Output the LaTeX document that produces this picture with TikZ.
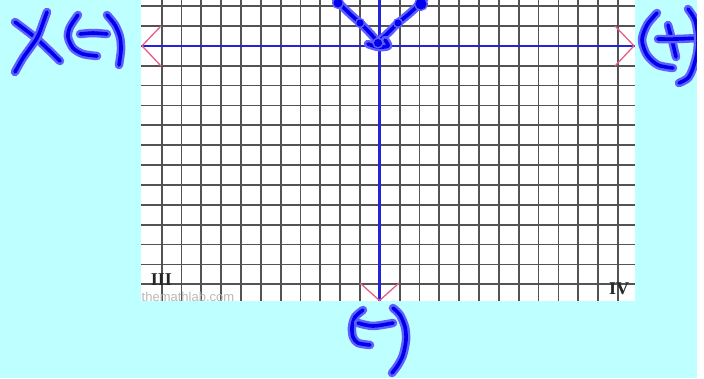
\documentclass[tikz,border=0pt]{standalone}
\usepackage{fontspec}
\newfontfamily\wmfont{Liberation Sans}
\newfontfamily\quadfont{Liberation Serif}
\definecolor{bgcyan}{RGB}{190,255,255}
\definecolor{gridgray}{RGB}{40,40,40}
\definecolor{axisblue}{RGB}{35,35,215}
\definecolor{arrowpink}{RGB}{230,95,135}
\definecolor{inkcore}{RGB}{0,0,235}
\definecolor{inkhalo}{RGB}{95,95,255}
\tikzset{
  gridline/.style={draw=gridgray!80, line width=1.8pt},
  axisline/.style={draw=axisblue, line width=2.4pt},
  pinkhead/.style={draw=arrowpink, line width=1.3pt},
  ink/.style={line cap=round, line join=round, preaction={draw=inkhalo, line width=8.5pt, line cap=round, line join=round}, draw=inkcore, line width=3.6pt},
  inkdot/.style={fill=inkcore, preaction={fill=inkhalo, draw=inkhalo, line width=3pt}},
  quad/.style={font=\quadfont\bfseries\fontsize{18}{18}\selectfont, text=black!85, inner sep=0pt},
  wmark/.style={font=\wmfont\fontsize{13}{13}\selectfont, text=black!28, inner sep=0pt}
}
\begin{document}
\begin{tikzpicture}[x=1pt,y=-1pt]
\fill[bgcyan] (0,0) rectangle (697,378);
\useasboundingbox (0,0) rectangle (704,378);
% grid sheet
\fill[white] (141,0) rectangle (635,301);
\foreach \k in {0,...,23} \draw[gridline] ({161.6+19.84*\k},0) -- ({161.6+19.84*\k},301);
\foreach \j in {0,...,14} \draw[gridline] (141,{6+19.88*\j}) -- (635,{6+19.88*\j});
% quadrant labels and watermark
\node[quad] (q3) at (161.5,279.5) {III};
\node[quad] (q4) at (619,288.5) {IV};
\node[wmark, anchor=west] (wm) at (141.5,296.5) {themathlab.com};
% axes
\coordinate (xl) at (141,45.8);
\coordinate (xr) at (635,45.8);
\coordinate (yt) at (379.5,0);
\coordinate (yb) at (379.5,301);
\draw[axisline] (xl) -- (xr);
\draw[axisline] (yt) -- (yb);
% pink arrowheads
\draw[pinkhead] (161,26) -- (142,45.8) -- (161,66);
\draw[pinkhead] (615,26) -- (634,45.8) -- (615,66);
\draw[pinkhead] (360,283) -- (379.5,300.5) -- (399,283);
% X(-)
\draw[ink] plot[smooth] coordinates {(15,22) (37,39) (60,61)};
\draw[ink] plot[smooth] coordinates {(47,12) (43,23) (37,38) (23,58) (15,72)};
\draw[ink] plot[smooth] coordinates {(78,15) (70,27) (68,37) (73,48) (83,54) (97,56)};
\draw[ink] plot[smooth] coordinates {(80,34) (93,33) (107,34)};
\draw[ink] plot[smooth] coordinates {(107,15) (115,25) (120,37) (121,50) (119,65)};
% (+)
\draw[ink] plot[smooth] coordinates {(657,13) (647,25) (642,40) (647,55) (658,65) (673,68)};
\draw[ink] plot[smooth] coordinates {(668,25) (672,40) (676,57)};
\draw[ink] plot[smooth] coordinates {(658,39) (677,39) (699,38)};
\draw[ink] plot[smooth] coordinates {(688,9) (695,20) (698,37) (697,53) (693,68) (688,78) (679,83)};
% (-)
\draw[ink] plot[smooth] coordinates {(363,310) (355,317) (352,327) (353,337) (358,343) (370,345)};
\draw[ink] plot[smooth] coordinates {(358,323) (373,326) (393,323)};
\draw[ink] plot[smooth] coordinates {(393,308) (400,315) (405,327) (406,340) (403,355) (398,365) (392,373)};
% V of dots at top
\draw[ink] plot[smooth] coordinates {(336,0) (349,13) (360,23) (369,32) (378,42)};
\draw[ink] plot[smooth] coordinates {(424,0) (410,13) (398,23) (388,33) (378,42)};
\draw[ink] plot[smooth] coordinates {(368,44) (378,47) (388,46) (385,40)};
\fill[inkdot] (338,3) circle (4.5);
\fill[inkdot] (421,4) circle (5.5);
\fill[inkdot] (360,23) circle (3.5);
\fill[inkdot] (398,23) circle (3.5);
\fill[inkdot] (378,43) circle (4);
% white strip at the right edge
\fill[white] (697,0) rectangle (704,378);
\end{tikzpicture}
\end{document}
